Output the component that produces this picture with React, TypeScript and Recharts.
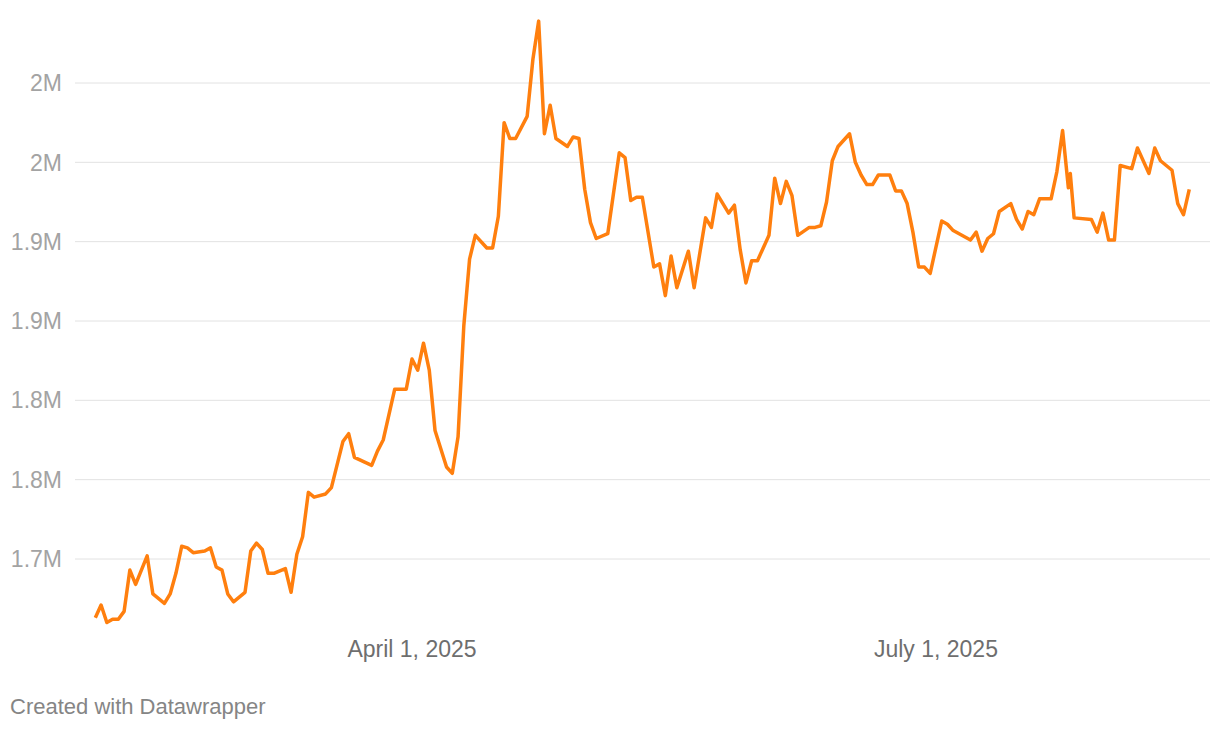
import { CartesianGrid, Line, LineChart, XAxis, YAxis } from 'recharts'

const dates = [
  '2025-02-05', '2025-02-06', '2025-02-07', '2025-02-08', '2025-02-09', '2025-02-10', '2025-02-11',
  '2025-02-12', '2025-02-14', '2025-02-15', '2025-02-17', '2025-02-18', '2025-02-19', '2025-02-20',
  '2025-02-21', '2025-02-22', '2025-02-24', '2025-02-25', '2025-02-26', '2025-02-27', '2025-02-28',
  '2025-03-01', '2025-03-03', '2025-03-04', '2025-03-05', '2025-03-06', '2025-03-07', '2025-03-08',
  '2025-03-10', '2025-03-11', '2025-03-12', '2025-03-13', '2025-03-14', '2025-03-15', '2025-03-17',
  '2025-03-18', '2025-03-20', '2025-03-21', '2025-03-22', '2025-03-25', '2025-03-26', '2025-03-27',
  '2025-03-29', '2025-03-31',
  '2025-04-01', '2025-04-02', '2025-04-03', '2025-04-04', '2025-04-05', '2025-04-07', '2025-04-08',
  '2025-04-09', '2025-04-10', '2025-04-11', '2025-04-12', '2025-04-14', '2025-04-15', '2025-04-16',
  '2025-04-17', '2025-04-18', '2025-04-19', '2025-04-21', '2025-04-22', '2025-04-23', '2025-04-24',
  '2025-04-25', '2025-04-26', '2025-04-28', '2025-04-29', '2025-04-30',
  '2025-05-01', '2025-05-02', '2025-05-03', '2025-05-05', '2025-05-07', '2025-05-08', '2025-05-09',
  '2025-05-10', '2025-05-11', '2025-05-13', '2025-05-14', '2025-05-15', '2025-05-16', '2025-05-17',
  '2025-05-19', '2025-05-20', '2025-05-22', '2025-05-23', '2025-05-24', '2025-05-26', '2025-05-27',
  '2025-05-28', '2025-05-29', '2025-05-30', '2025-05-31',
  '2025-06-02', '2025-06-03', '2025-06-04', '2025-06-05', '2025-06-06', '2025-06-07', '2025-06-09',
  '2025-06-10', '2025-06-11', '2025-06-12', '2025-06-13', '2025-06-14', '2025-06-16', '2025-06-17',
  '2025-06-18', '2025-06-19', '2025-06-20', '2025-06-21', '2025-06-23', '2025-06-24', '2025-06-25',
  '2025-06-26', '2025-06-27', '2025-06-28', '2025-06-29', '2025-06-30',
  '2025-07-02', '2025-07-03', '2025-07-04', '2025-07-07', '2025-07-08', '2025-07-09', '2025-07-10',
  '2025-07-11', '2025-07-12', '2025-07-14', '2025-07-15', '2025-07-16', '2025-07-17', '2025-07-18',
  '2025-07-19', '2025-07-21', '2025-07-22', '2025-07-23', '2025-07-24', '2025-07-24T08:00:00Z',
  '2025-07-25', '2025-07-28', '2025-07-29', '2025-07-30', '2025-07-31',
  '2025-08-01', '2025-08-02', '2025-08-04', '2025-08-05', '2025-08-07', '2025-08-08', '2025-08-09',
  '2025-08-11', '2025-08-12', '2025-08-13', '2025-08-14',
]

// millions
const valuesM = [
  1.663, 1.671, 1.66, 1.662, 1.662, 1.667, 1.693,
  1.684, 1.702, 1.678, 1.672, 1.678, 1.691, 1.708,
  1.707, 1.704, 1.705, 1.707, 1.695, 1.693, 1.678,
  1.673, 1.679, 1.705, 1.71, 1.706, 1.691, 1.691,
  1.694, 1.679, 1.703, 1.714, 1.742, 1.739, 1.741,
  1.745, 1.774, 1.779, 1.764, 1.759, 1.768, 1.775,
  1.807, 1.807,
  1.826, 1.819, 1.836, 1.819, 1.781, 1.758, 1.754,
  1.777, 1.847, 1.889, 1.904, 1.896, 1.896, 1.916,
  1.975, 1.965, 1.965, 1.979, 2.015, 2.039, 1.968,
  1.986, 1.965, 1.96, 1.966, 1.965,
  1.933, 1.912, 1.902, 1.905, 1.956, 1.953, 1.926,
  1.928, 1.928, 1.884, 1.886, 1.866, 1.891, 1.871,
  1.894, 1.871, 1.915, 1.909, 1.93, 1.918, 1.923,
  1.895, 1.874, 1.888, 1.888,
  1.904, 1.94, 1.924, 1.938, 1.929, 1.904, 1.909,
  1.909, 1.91, 1.925, 1.951, 1.96, 1.968, 1.95,
  1.942, 1.936, 1.936, 1.942, 1.942, 1.932, 1.932,
  1.924, 1.906, 1.884, 1.884, 1.88,
  1.913, 1.911, 1.907, 1.901, 1.906, 1.894, 1.902,
  1.905, 1.919, 1.924, 1.914, 1.908, 1.919, 1.917,
  1.927, 1.927, 1.944, 1.97, 1.934, 1.943,
  1.915, 1.914, 1.906, 1.918, 1.901,
  1.901, 1.948, 1.946, 1.959, 1.943, 1.959, 1.951,
  1.945, 1.924, 1.917, 1.933,
]

const xTicks = ['2025-04-01', '2025-07-01']
const xTickLabels = ['April 1, 2025', 'July 1, 2025']

const yTicks = [1.7, 1.75, 1.8, 1.85, 1.9, 1.95, 2.0]
const yTickLabels = ['1.7M', '1.8M', '1.8M', '1.9M', '1.9M', '2M', '2M']

const DAY = 86400000
const APR1 = Date.parse('2025-04-01')
const xDomain = [APR1 - 58.53 * DAY, APR1 + 138.6 * DAY]

const data = dates.map((d, i) => ({ ts: Date.parse(d), value: valuesM[i] }))
const xTickTs = xTicks.map((d) => Date.parse(d))

const FONT = '"Liberation Sans", Arial, Helvetica, sans-serif'

export default function App() {
  return (
    <div
      style={{
        position: 'absolute',
        left: 0,
        top: 0,
        width: 1220,
        height: 730,
        background: '#fff',
        fontFamily: FONT,
      }}
    >
      <LineChart
        width={1220}
        height={730}
        data={data}
        margin={{ top: 3.67, right: 10, bottom: 59.6, left: 0 }}
      >
        <CartesianGrid
          vertical={false}
          horizontalValues={yTicks}
          stroke="#e2e2e2"
          strokeWidth={1}
        />
        <XAxis
          dataKey="ts"
          type="number"
          scale="time"
          domain={xDomain}
          allowDataOverflow
          ticks={xTickTs}
          interval={0}
          tickFormatter={(v: number) => xTickLabels[xTickTs.indexOf(v)] ?? ''}
          axisLine={false}
          tickLine={false}
          tickSize={0}
          tickMargin={10}
          height={40}
          tick={{ fill: '#6e6e6e', fontSize: 23, fontFamily: FONT }}
        />
        <YAxis
          type="number"
          domain={[1.655, 2.05]}
          allowDataOverflow
          ticks={yTicks}
          interval={0}
          tickFormatter={(v: number) => {
            const i = yTicks.findIndex((t) => Math.abs(t - v) < 1e-9)
            return i >= 0 ? yTickLabels[i] : ''
          }}
          axisLine={false}
          tickLine={false}
          tickSize={0}
          tickMargin={13}
          width={75}
          tick={{ fill: '#a3a3a3', fontSize: 23, fontFamily: FONT }}
        />
        <Line
          type="linear"
          dataKey="value"
          stroke="#ff7f0e"
          strokeWidth={3.5}
          strokeLinejoin="round"
          dot={false}
          activeDot={false}
          isAnimationActive={false}
        />
      </LineChart>
      <div
        style={{
          position: 'absolute',
          left: 10,
          top: 696,
          fontSize: 22,
          lineHeight: '21px',
          color: '#858585',
          fontFamily: FONT,
        }}
      >
        Created with Datawrapper
      </div>
    </div>
  )
}
